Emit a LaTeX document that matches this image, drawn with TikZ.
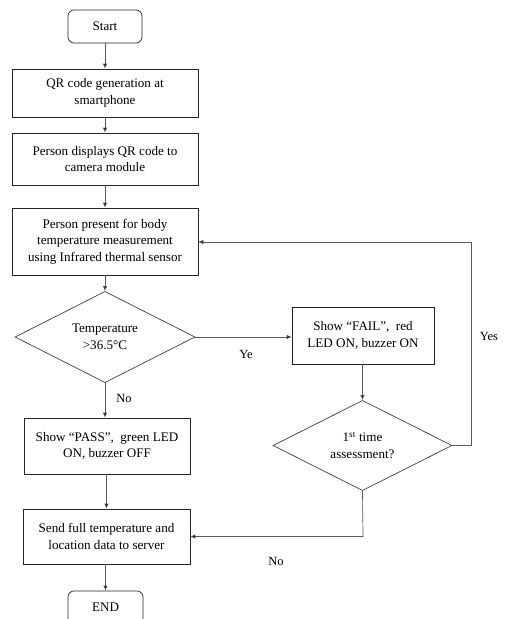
\documentclass[tikz,border=0pt]{standalone}
\usepackage{fontspec}
\setmainfont{Liberation Serif}
\usetikzlibrary{shapes.geometric,arrows.meta}
\begin{document}
\begin{tikzpicture}[x=1pt,y=-1pt,
  font=\fontsize{13.1}{16.5}\selectfont,
  procbox/.style={draw=black!85, line width=0.7pt, rectangle, align=center, inner sep=0pt},
  termbox/.style={draw=black!85, line width=0.7pt, rectangle, rounded corners=6pt, align=center, inner sep=0pt, minimum width=74pt, minimum height=33pt},
  decbox/.style={draw=black!75, line width=0.7pt, diamond, align=center, inner sep=0pt},
  conn/.style={draw=black!65, line width=0.7pt, -{Latex[length=5pt,width=4.5pt,fill=black]}},
  lbl/.style={font=\fontsize{12.5}{14}\selectfont}
]
\useasboundingbox (0,0) rectangle (504,619);
\clip (0,0) rectangle (504,619);
\node[termbox] (start) at (105,26.5) {Start};
\node[procbox, minimum width=186pt, minimum height=48pt] (qr) at (105,93) {QR code generation at\\smartphone};
\node[procbox, minimum width=186pt, minimum height=52pt] (disp) at (105,159) {Person displays QR code to\\camera module};
\node[procbox, minimum width=186pt, minimum height=67pt] (pres) at (105,241.5) {Person present for body\\temperature measurement\\using Infrared thermal sensor};
\node[decbox, minimum width=180pt, minimum height=80pt] (temp) at (105,337) {Temperature\\>36.5°C};
\node[procbox, minimum width=142pt, minimum height=57pt] (fail) at (363,335.5) {Show “FAIL”,\ \ red\\LED ON, buzzer ON};
\node[decbox, minimum width=179pt, minimum height=87pt] (first) at (362.5,445.5) {1\textsuperscript{st} time\\assessment?};
\node[procbox, minimum width=166pt, minimum height=56pt] (pass) at (107,446) {Show “PASS”,\ \ green LED\\ON, buzzer OFF};
\node[procbox, minimum width=167pt, minimum height=55pt] (send) at (106.5,536.5) {Send full temperature and\\location data to server};
\node[termbox, minimum width=75pt] (end) at (105.5,607.5) {END};

\coordinate (loopA) at (471,445.5);
\coordinate (loopB) at (471,242);
\coordinate (noC) at (363,536.5);

\draw[conn] (start) -- (qr);
\draw[conn] (qr) -- (disp);
\draw[conn] (disp) -- (pres);
\draw[conn] (pres.south) -- (temp.north);
\draw[conn] (temp.east) -- (temp.east -| fail.west);
\draw[conn] (temp.south) -- (pass.north -| temp.south);
\draw[conn] (fail.south -| first.north) -- (first.north);
\draw[conn] (first.east) -- (loopA) -- (loopB) -- (loopB -| pres.east);
\draw[conn] (first.south) -- (noC) -- (send.east);
\draw[conn] (pass.south -| send.north) -- (send.north);
\draw[conn] (send.south -| end.north) -- (end.north);

\node[lbl] (ye) at (246,354) {Ye};
\node[lbl] (yes) at (489,336) {Yes};
\node[lbl] (no1) at (124,398) {No};
\node[lbl] (no2) at (276,561) {No};
\end{tikzpicture}
\end{document}
